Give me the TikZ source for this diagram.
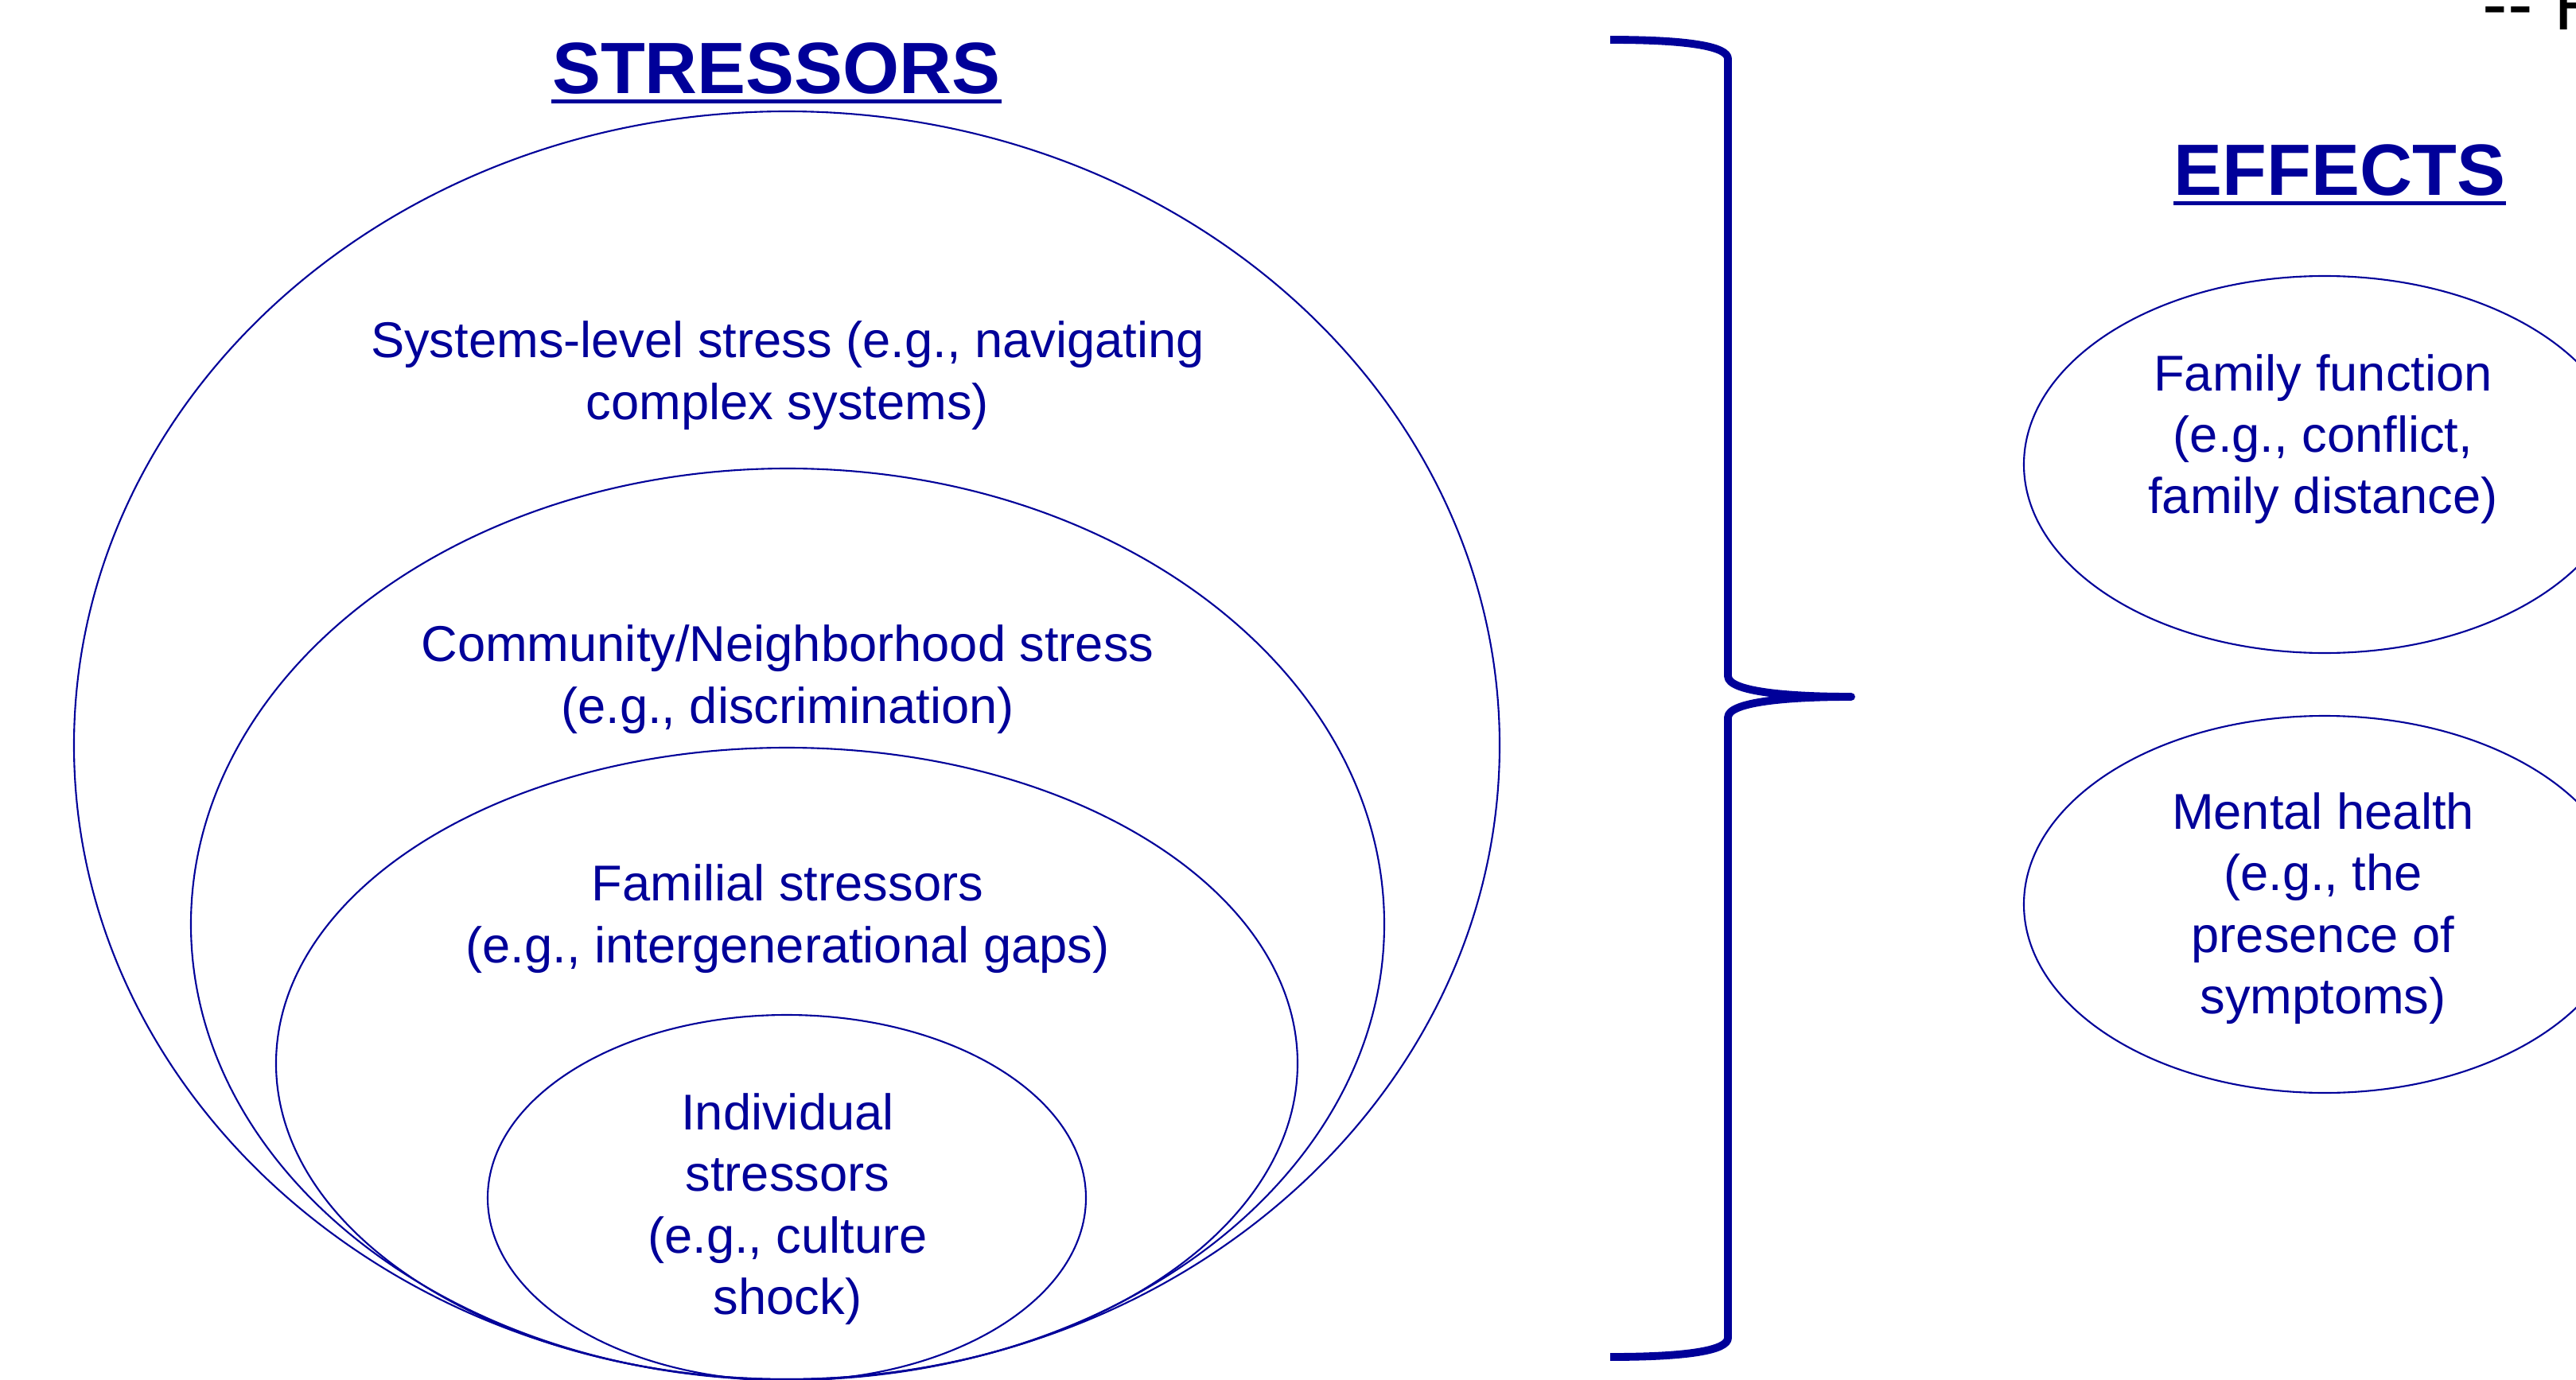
\documentclass[tikz,border=0pt]{standalone}
\usepackage{fontspec}
\setmainfont{Liberation Sans}
\usetikzlibrary{positioning}
\definecolor{navy}{RGB}{0,0,153}

\begin{document}
\begin{tikzpicture}[
    ring/.style={draw=navy, line width=0.6pt},
    txt/.style={text=navy, align=center, inner sep=0pt,
        font=\fontsize{18}{22}\selectfont},
    head/.style={text=navy, inner sep=0pt, anchor=base,
        font=\fontsize{26}{30}\selectfont\bfseries}
]

% page frame
\useasboundingbox (0,0) rectangle (32.38,-17.35);

% ============================
% Titles
% ============================
\node[head] (stress) at (9.76,-1.18) {STRESSORS};
\draw[navy, line width=1.5pt] ([yshift=-2.8pt]stress.base west) -- ([yshift=-2.8pt]stress.base east);

\node[head] (effects) at (29.41,-2.46) {EFFECTS};
\draw[navy, line width=1.5pt] ([yshift=-2.8pt]effects.base west) -- ([yshift=-2.8pt]effects.base east);

% cut off text top right
\node[anchor=base west, inner sep=0pt, font=\fontsize{27}{30}\selectfont] (fig) at (31.20,-0.38) {-{}- F};

% ============================
% Stressors (nested rings)
% ============================
\draw[ring] (9.89,-9.37) ellipse [x radius=8.96, y radius=7.97];
\draw[ring] (9.90,-11.62) ellipse [x radius=7.50, y radius=5.73];
\draw[ring] (9.89,-13.37) ellipse [x radius=6.42, y radius=3.97];
\draw[ring] (9.89,-15.06) ellipse [x radius=3.76, y radius=2.30];

\node[txt] (sys)   at (9.90,-4.72)  {Systems-level stress (e.g., navigating\\complex systems)};
\node[txt] (comm)  at (9.90,-8.54)  {Community/Neighborhood stress\\(e.g., discrimination)};
\node[txt] (fam)   at (9.90,-11.55) {Familial stressors\\(e.g., intergenerational gaps)};
\node[txt] (indiv) at (9.90,-15.20) {Individual\\stressors\\(e.g., culture\\shock)};

% ============================
% Brace
% ============================
\draw[navy, line width=2.8pt, line join=round]
    (20.24,-0.50) .. controls (21.20,-0.50) and (21.72,-0.58) .. (21.72,-0.74)
                  -- (21.72,-8.50)
                  .. controls (21.72,-8.70) and (22.50,-8.76) .. (23.27,-8.76)
                  .. controls (22.50,-8.76) and (21.72,-8.82) .. (21.72,-9.02)
                  -- (21.72,-16.82)
                  .. controls (21.72,-16.98) and (21.20,-17.06) .. (20.24,-17.06);

% ============================
% Effects
% ============================
\draw[ring] (29.22,-5.84) ellipse [x radius=3.78, y radius=2.37];
\draw[ring] (29.22,-11.37) ellipse [x radius=3.78, y radius=2.37];

\node[txt] (famfun) at (29.20,-5.52)  {Family function\\(e.g., conflict,\\family distance)};
\node[txt] (mental) at (29.20,-11.42) {Mental health\\(e.g., the\\presence of\\symptoms)};

\end{tikzpicture}
\end{document}
